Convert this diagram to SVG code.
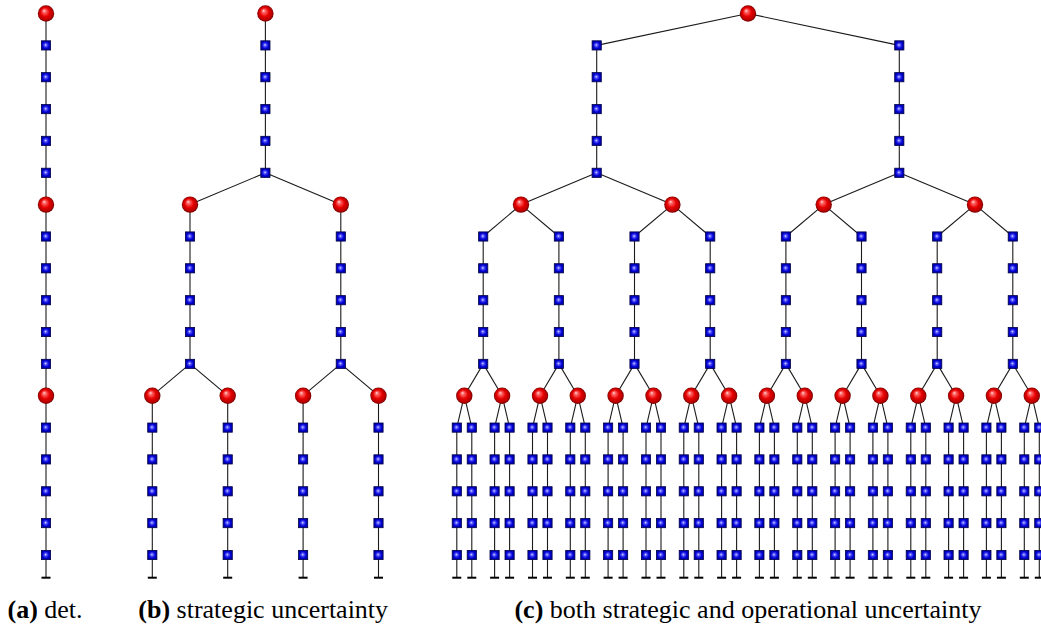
<svg xmlns="http://www.w3.org/2000/svg" width="1041" height="626" viewBox="0 0 1041 626">
  <style>
    .e { stroke: #1a1a1a; stroke-width: 1.1; fill: none; }
    .leaf { marker-end: url(#tee); }
  </style>
  <defs>
    <radialGradient id="ballFill" cx="0.5" cy="0.5" r="0.5" fx="0.38" fy="0.32">
      <stop offset="0" stop-color="#ffe4e4"/>
      <stop offset="0.18" stop-color="#ff6a6a"/>
      <stop offset="0.55" stop-color="#e60000"/>
      <stop offset="0.85" stop-color="#b80000"/>
      <stop offset="1" stop-color="#6e0000"/>
    </radialGradient>
    <radialGradient id="sqFill" cx="0.5" cy="0.5" r="0.6" fx="0.45" fy="0.45">
      <stop offset="0" stop-color="#e4e4ff"/>
      <stop offset="0.22" stop-color="#5a5aff"/>
      <stop offset="0.6" stop-color="#0000d2"/>
      <stop offset="1" stop-color="#00009a"/>
    </radialGradient>
    <g id="ball"><circle r="8.2" fill="url(#ballFill)"/></g>
    <g id="sq"><rect x="-4.6" y="-4.6" width="9.2" height="9.2" fill="url(#sqFill)" stroke="#00004a" stroke-width="0.8"/></g>
    <marker id="tee" markerUnits="userSpaceOnUse" markerWidth="12" markerHeight="4" refX="6" refY="2" orient="0">
      <path d="M1.5 2H10.5" stroke="#000" stroke-width="2"/>
    </marker>
  </defs>
  <rect width="1041" height="626" fill="#fff"/>

  <!-- connectors -->
  <g id="connectors">
    <!-- (a) single chain -->
    <line class="e" x1="46" y1="13.5" x2="46" y2="204.6"/>
    <line class="e" x1="46" y1="204.6" x2="46" y2="395.7"/>
    <line class="e leaf" x1="46" y1="395.7" x2="46" y2="577.7"/>

    <!-- (b) strategic branching -->
    <line class="e" x1="265.4" y1="13.5" x2="265.4" y2="172.8"/>
    <line class="e" x1="265.4" y1="172.8" x2="190" y2="204.6"/>
    <line class="e" x1="265.4" y1="172.8" x2="340.8" y2="204.6"/>
    <line class="e" x1="190" y1="204.6" x2="190" y2="363.9"/>
    <line class="e" x1="340.8" y1="204.6" x2="340.8" y2="363.9"/>
    <line class="e" x1="190" y1="363.9" x2="152.3" y2="395.7"/>
    <line class="e" x1="190" y1="363.9" x2="227.7" y2="395.7"/>
    <line class="e" x1="340.8" y1="363.9" x2="303.1" y2="395.7"/>
    <line class="e" x1="340.8" y1="363.9" x2="378.5" y2="395.7"/>
    <line class="e leaf" x1="152.3" y1="395.7" x2="152.3" y2="577.7"/>
    <line class="e leaf" x1="227.7" y1="395.7" x2="227.7" y2="577.7"/>
    <line class="e leaf" x1="303.1" y1="395.7" x2="303.1" y2="577.7"/>
    <line class="e leaf" x1="378.5" y1="395.7" x2="378.5" y2="577.7"/>

    <!-- (c) strategic + operational branching -->
    <line class="e" x1="748" y1="13.5" x2="596.7" y2="45.4"/>
    <line class="e" x1="748" y1="13.5" x2="899.3" y2="45.4"/>
    <line class="e" x1="596.7" y1="45.4" x2="596.7" y2="172.8"/>
    <line class="e" x1="899.3" y1="45.4" x2="899.3" y2="172.8"/>
    <line class="e" x1="596.7" y1="172.8" x2="521" y2="204.6"/>
    <line class="e" x1="596.7" y1="172.8" x2="672.4" y2="204.6"/>
    <line class="e" x1="899.3" y1="172.8" x2="823.7" y2="204.6"/>
    <line class="e" x1="899.3" y1="172.8" x2="975" y2="204.6"/>

    <line class="e" x1="521" y1="204.6" x2="483.2" y2="236.5"/>
    <line class="e" x1="521" y1="204.6" x2="558.9" y2="236.5"/>
    <line class="e" x1="672.4" y1="204.6" x2="634.5" y2="236.5"/>
    <line class="e" x1="672.4" y1="204.6" x2="710.2" y2="236.5"/>
    <line class="e" x1="823.7" y1="204.6" x2="785.9" y2="236.5"/>
    <line class="e" x1="823.7" y1="204.6" x2="861.5" y2="236.5"/>
    <line class="e" x1="975" y1="204.6" x2="937.2" y2="236.5"/>
    <line class="e" x1="975" y1="204.6" x2="1012.8" y2="236.5"/>

    <line class="e" x1="483.2" y1="236.5" x2="483.2" y2="363.9"/>
    <line class="e" x1="558.9" y1="236.5" x2="558.9" y2="363.9"/>
    <line class="e" x1="634.5" y1="236.5" x2="634.5" y2="363.9"/>
    <line class="e" x1="710.2" y1="236.5" x2="710.2" y2="363.9"/>
    <line class="e" x1="785.9" y1="236.5" x2="785.9" y2="363.9"/>
    <line class="e" x1="861.5" y1="236.5" x2="861.5" y2="363.9"/>
    <line class="e" x1="937.2" y1="236.5" x2="937.2" y2="363.9"/>
    <line class="e" x1="1012.8" y1="236.5" x2="1012.8" y2="363.9"/>

    <line class="e" x1="483.2" y1="363.9" x2="464.3" y2="395.7"/>
    <line class="e" x1="483.2" y1="363.9" x2="502.1" y2="395.7"/>
    <line class="e" x1="558.9" y1="363.9" x2="540" y2="395.7"/>
    <line class="e" x1="558.9" y1="363.9" x2="577.8" y2="395.7"/>
    <line class="e" x1="634.5" y1="363.9" x2="615.6" y2="395.7"/>
    <line class="e" x1="634.5" y1="363.9" x2="653.5" y2="395.7"/>
    <line class="e" x1="710.2" y1="363.9" x2="691.3" y2="395.7"/>
    <line class="e" x1="710.2" y1="363.9" x2="729.1" y2="395.7"/>
    <line class="e" x1="785.9" y1="363.9" x2="766.9" y2="395.7"/>
    <line class="e" x1="785.9" y1="363.9" x2="804.8" y2="395.7"/>
    <line class="e" x1="861.5" y1="363.9" x2="842.6" y2="395.7"/>
    <line class="e" x1="861.5" y1="363.9" x2="880.4" y2="395.7"/>
    <line class="e" x1="937.2" y1="363.9" x2="918.3" y2="395.7"/>
    <line class="e" x1="937.2" y1="363.9" x2="956.1" y2="395.7"/>
    <line class="e" x1="1012.8" y1="363.9" x2="993.9" y2="395.7"/>
    <line class="e" x1="1012.8" y1="363.9" x2="1031.8" y2="395.7"/>

    <line class="e" x1="464.3" y1="395.7" x2="456.8" y2="427.6"/>
    <line class="e" x1="464.3" y1="395.7" x2="471.8" y2="427.6"/>
    <line class="e" x1="502.1" y1="395.7" x2="494.6" y2="427.6"/>
    <line class="e" x1="502.1" y1="395.7" x2="509.6" y2="427.6"/>
    <line class="e" x1="540" y1="395.7" x2="532.5" y2="427.6"/>
    <line class="e" x1="540" y1="395.7" x2="547.5" y2="427.6"/>
    <line class="e" x1="577.8" y1="395.7" x2="570.3" y2="427.6"/>
    <line class="e" x1="577.8" y1="395.7" x2="585.3" y2="427.6"/>
    <line class="e" x1="615.6" y1="395.7" x2="608.1" y2="427.6"/>
    <line class="e" x1="615.6" y1="395.7" x2="623.1" y2="427.6"/>
    <line class="e" x1="653.5" y1="395.7" x2="646" y2="427.6"/>
    <line class="e" x1="653.5" y1="395.7" x2="661" y2="427.6"/>
    <line class="e" x1="691.3" y1="395.7" x2="683.8" y2="427.6"/>
    <line class="e" x1="691.3" y1="395.7" x2="698.8" y2="427.6"/>
    <line class="e" x1="729.1" y1="395.7" x2="721.6" y2="427.6"/>
    <line class="e" x1="729.1" y1="395.7" x2="736.6" y2="427.6"/>
    <line class="e" x1="766.9" y1="395.7" x2="759.4" y2="427.6"/>
    <line class="e" x1="766.9" y1="395.7" x2="774.4" y2="427.6"/>
    <line class="e" x1="804.8" y1="395.7" x2="797.3" y2="427.6"/>
    <line class="e" x1="804.8" y1="395.7" x2="812.3" y2="427.6"/>
    <line class="e" x1="842.6" y1="395.7" x2="835.1" y2="427.6"/>
    <line class="e" x1="842.6" y1="395.7" x2="850.1" y2="427.6"/>
    <line class="e" x1="880.4" y1="395.7" x2="872.9" y2="427.6"/>
    <line class="e" x1="880.4" y1="395.7" x2="887.9" y2="427.6"/>
    <line class="e" x1="918.3" y1="395.7" x2="910.8" y2="427.6"/>
    <line class="e" x1="918.3" y1="395.7" x2="925.8" y2="427.6"/>
    <line class="e" x1="956.1" y1="395.7" x2="948.6" y2="427.6"/>
    <line class="e" x1="956.1" y1="395.7" x2="963.6" y2="427.6"/>
    <line class="e" x1="993.9" y1="395.7" x2="986.4" y2="427.6"/>
    <line class="e" x1="993.9" y1="395.7" x2="1001.4" y2="427.6"/>
    <line class="e" x1="1031.8" y1="395.7" x2="1024.3" y2="427.6"/>
    <line class="e" x1="1031.8" y1="395.7" x2="1039.3" y2="427.6"/>

    <line class="e leaf" x1="456.8" y1="427.6" x2="456.8" y2="577.7"/>
    <line class="e leaf" x1="471.8" y1="427.6" x2="471.8" y2="577.7"/>
    <line class="e leaf" x1="494.6" y1="427.6" x2="494.6" y2="577.7"/>
    <line class="e leaf" x1="509.6" y1="427.6" x2="509.6" y2="577.7"/>
    <line class="e leaf" x1="532.5" y1="427.6" x2="532.5" y2="577.7"/>
    <line class="e leaf" x1="547.5" y1="427.6" x2="547.5" y2="577.7"/>
    <line class="e leaf" x1="570.3" y1="427.6" x2="570.3" y2="577.7"/>
    <line class="e leaf" x1="585.3" y1="427.6" x2="585.3" y2="577.7"/>
    <line class="e leaf" x1="608.1" y1="427.6" x2="608.1" y2="577.7"/>
    <line class="e leaf" x1="623.1" y1="427.6" x2="623.1" y2="577.7"/>
    <line class="e leaf" x1="646" y1="427.6" x2="646" y2="577.7"/>
    <line class="e leaf" x1="661" y1="427.6" x2="661" y2="577.7"/>
    <line class="e leaf" x1="683.8" y1="427.6" x2="683.8" y2="577.7"/>
    <line class="e leaf" x1="698.8" y1="427.6" x2="698.8" y2="577.7"/>
    <line class="e leaf" x1="721.6" y1="427.6" x2="721.6" y2="577.7"/>
    <line class="e leaf" x1="736.6" y1="427.6" x2="736.6" y2="577.7"/>
    <line class="e leaf" x1="759.4" y1="427.6" x2="759.4" y2="577.7"/>
    <line class="e leaf" x1="774.4" y1="427.6" x2="774.4" y2="577.7"/>
    <line class="e leaf" x1="797.3" y1="427.6" x2="797.3" y2="577.7"/>
    <line class="e leaf" x1="812.3" y1="427.6" x2="812.3" y2="577.7"/>
    <line class="e leaf" x1="835.1" y1="427.6" x2="835.1" y2="577.7"/>
    <line class="e leaf" x1="850.1" y1="427.6" x2="850.1" y2="577.7"/>
    <line class="e leaf" x1="872.9" y1="427.6" x2="872.9" y2="577.7"/>
    <line class="e leaf" x1="887.9" y1="427.6" x2="887.9" y2="577.7"/>
    <line class="e leaf" x1="910.8" y1="427.6" x2="910.8" y2="577.7"/>
    <line class="e leaf" x1="925.8" y1="427.6" x2="925.8" y2="577.7"/>
    <line class="e leaf" x1="948.6" y1="427.6" x2="948.6" y2="577.7"/>
    <line class="e leaf" x1="963.6" y1="427.6" x2="963.6" y2="577.7"/>
    <line class="e leaf" x1="986.4" y1="427.6" x2="986.4" y2="577.7"/>
    <line class="e leaf" x1="1001.4" y1="427.6" x2="1001.4" y2="577.7"/>
    <line class="e leaf" x1="1024.3" y1="427.6" x2="1024.3" y2="577.7"/>
    <line class="e leaf" x1="1039.3" y1="427.6" x2="1039.3" y2="577.7"/>
  </g>

  <!-- (a) deterministic: one chain -->
  <g id="panel-a">
    <g id="a0"><use href="#ball" x="46" y="13.5"/></g>
    <g id="a1"><use href="#sq" x="46" y="45.4"/></g>
    <g id="a2"><use href="#sq" x="46" y="77.2"/></g>
    <g id="a3"><use href="#sq" x="46" y="109.1"/></g>
    <g id="a4"><use href="#sq" x="46" y="140.9"/></g>
    <g id="a5"><use href="#sq" x="46" y="172.8"/></g>
    <g id="a6"><use href="#ball" x="46" y="204.6"/></g>
    <g id="a7"><use href="#sq" x="46" y="236.5"/></g>
    <g id="a8"><use href="#sq" x="46" y="268.3"/></g>
    <g id="a9"><use href="#sq" x="46" y="300.2"/></g>
    <g id="a10"><use href="#sq" x="46" y="332"/></g>
    <g id="a11"><use href="#sq" x="46" y="363.9"/></g>
    <g id="a12"><use href="#ball" x="46" y="395.7"/></g>
    <g id="a13"><use href="#sq" x="46" y="427.6"/></g>
    <g id="a14"><use href="#sq" x="46" y="459.4"/></g>
    <g id="a15"><use href="#sq" x="46" y="491.3"/></g>
    <g id="a16"><use href="#sq" x="46" y="523.1"/></g>
    <g id="a17"><use href="#sq" x="46" y="555"/></g>
  </g>

  <!-- (b) strategic uncertainty -->
  <g id="panel-b">
    <g id="b0"><use href="#ball" x="265.4" y="13.5"/></g>
    <g id="b1"><use href="#sq" x="265.4" y="45.4"/></g>
    <g id="b2"><use href="#sq" x="265.4" y="77.2"/></g>
    <g id="b3"><use href="#sq" x="265.4" y="109.1"/></g>
    <g id="b4"><use href="#sq" x="265.4" y="140.9"/></g>
    <g id="b5"><use href="#sq" x="265.4" y="172.8"/></g>

    <g id="b6-0"><use href="#ball" x="190" y="204.6"/></g>
    <g id="b7-0"><use href="#sq" x="190" y="236.5"/></g>
    <g id="b8-0"><use href="#sq" x="190" y="268.3"/></g>
    <g id="b9-0"><use href="#sq" x="190" y="300.2"/></g>
    <g id="b10-0"><use href="#sq" x="190" y="332"/></g>
    <g id="b11-0"><use href="#sq" x="190" y="363.9"/></g>
    <g id="b6-1"><use href="#ball" x="340.8" y="204.6"/></g>
    <g id="b7-1"><use href="#sq" x="340.8" y="236.5"/></g>
    <g id="b8-1"><use href="#sq" x="340.8" y="268.3"/></g>
    <g id="b9-1"><use href="#sq" x="340.8" y="300.2"/></g>
    <g id="b10-1"><use href="#sq" x="340.8" y="332"/></g>
    <g id="b11-1"><use href="#sq" x="340.8" y="363.9"/></g>

    <g id="b12-0"><use href="#ball" x="152.3" y="395.7"/></g>
    <g id="b13-0"><use href="#sq" x="152.3" y="427.6"/></g>
    <g id="b14-0"><use href="#sq" x="152.3" y="459.4"/></g>
    <g id="b15-0"><use href="#sq" x="152.3" y="491.3"/></g>
    <g id="b16-0"><use href="#sq" x="152.3" y="523.1"/></g>
    <g id="b17-0"><use href="#sq" x="152.3" y="555"/></g>
    <g id="b12-1"><use href="#ball" x="227.7" y="395.7"/></g>
    <g id="b13-1"><use href="#sq" x="227.7" y="427.6"/></g>
    <g id="b14-1"><use href="#sq" x="227.7" y="459.4"/></g>
    <g id="b15-1"><use href="#sq" x="227.7" y="491.3"/></g>
    <g id="b16-1"><use href="#sq" x="227.7" y="523.1"/></g>
    <g id="b17-1"><use href="#sq" x="227.7" y="555"/></g>
    <g id="b12-2"><use href="#ball" x="303.1" y="395.7"/></g>
    <g id="b13-2"><use href="#sq" x="303.1" y="427.6"/></g>
    <g id="b14-2"><use href="#sq" x="303.1" y="459.4"/></g>
    <g id="b15-2"><use href="#sq" x="303.1" y="491.3"/></g>
    <g id="b16-2"><use href="#sq" x="303.1" y="523.1"/></g>
    <g id="b17-2"><use href="#sq" x="303.1" y="555"/></g>
    <g id="b12-3"><use href="#ball" x="378.5" y="395.7"/></g>
    <g id="b13-3"><use href="#sq" x="378.5" y="427.6"/></g>
    <g id="b14-3"><use href="#sq" x="378.5" y="459.4"/></g>
    <g id="b15-3"><use href="#sq" x="378.5" y="491.3"/></g>
    <g id="b16-3"><use href="#sq" x="378.5" y="523.1"/></g>
    <g id="b17-3"><use href="#sq" x="378.5" y="555"/></g>
  </g>

  <!-- (c) strategic and operational uncertainty -->
  <g id="panel-c">
    <g id="c0"><use href="#ball" x="748" y="13.5"/></g>

    <g id="c1-0"><use href="#sq" x="596.7" y="45.4"/></g>
    <g id="c2-0"><use href="#sq" x="596.7" y="77.2"/></g>
    <g id="c3-0"><use href="#sq" x="596.7" y="109.1"/></g>
    <g id="c4-0"><use href="#sq" x="596.7" y="140.9"/></g>
    <g id="c5-0"><use href="#sq" x="596.7" y="172.8"/></g>
    <g id="c1-1"><use href="#sq" x="899.3" y="45.4"/></g>
    <g id="c2-1"><use href="#sq" x="899.3" y="77.2"/></g>
    <g id="c3-1"><use href="#sq" x="899.3" y="109.1"/></g>
    <g id="c4-1"><use href="#sq" x="899.3" y="140.9"/></g>
    <g id="c5-1"><use href="#sq" x="899.3" y="172.8"/></g>

    <g id="c6-0"><use href="#ball" x="521" y="204.6"/></g>
    <g id="c6-1"><use href="#ball" x="672.4" y="204.6"/></g>
    <g id="c6-2"><use href="#ball" x="823.7" y="204.6"/></g>
    <g id="c6-3"><use href="#ball" x="975" y="204.6"/></g>

    <g id="c7-0"><use href="#sq" x="483.2" y="236.5"/></g>
    <g id="c8-0"><use href="#sq" x="483.2" y="268.3"/></g>
    <g id="c9-0"><use href="#sq" x="483.2" y="300.2"/></g>
    <g id="c10-0"><use href="#sq" x="483.2" y="332"/></g>
    <g id="c11-0"><use href="#sq" x="483.2" y="363.9"/></g>
    <g id="c7-1"><use href="#sq" x="558.9" y="236.5"/></g>
    <g id="c8-1"><use href="#sq" x="558.9" y="268.3"/></g>
    <g id="c9-1"><use href="#sq" x="558.9" y="300.2"/></g>
    <g id="c10-1"><use href="#sq" x="558.9" y="332"/></g>
    <g id="c11-1"><use href="#sq" x="558.9" y="363.9"/></g>
    <g id="c7-2"><use href="#sq" x="634.5" y="236.5"/></g>
    <g id="c8-2"><use href="#sq" x="634.5" y="268.3"/></g>
    <g id="c9-2"><use href="#sq" x="634.5" y="300.2"/></g>
    <g id="c10-2"><use href="#sq" x="634.5" y="332"/></g>
    <g id="c11-2"><use href="#sq" x="634.5" y="363.9"/></g>
    <g id="c7-3"><use href="#sq" x="710.2" y="236.5"/></g>
    <g id="c8-3"><use href="#sq" x="710.2" y="268.3"/></g>
    <g id="c9-3"><use href="#sq" x="710.2" y="300.2"/></g>
    <g id="c10-3"><use href="#sq" x="710.2" y="332"/></g>
    <g id="c11-3"><use href="#sq" x="710.2" y="363.9"/></g>
    <g id="c7-4"><use href="#sq" x="785.9" y="236.5"/></g>
    <g id="c8-4"><use href="#sq" x="785.9" y="268.3"/></g>
    <g id="c9-4"><use href="#sq" x="785.9" y="300.2"/></g>
    <g id="c10-4"><use href="#sq" x="785.9" y="332"/></g>
    <g id="c11-4"><use href="#sq" x="785.9" y="363.9"/></g>
    <g id="c7-5"><use href="#sq" x="861.5" y="236.5"/></g>
    <g id="c8-5"><use href="#sq" x="861.5" y="268.3"/></g>
    <g id="c9-5"><use href="#sq" x="861.5" y="300.2"/></g>
    <g id="c10-5"><use href="#sq" x="861.5" y="332"/></g>
    <g id="c11-5"><use href="#sq" x="861.5" y="363.9"/></g>
    <g id="c7-6"><use href="#sq" x="937.2" y="236.5"/></g>
    <g id="c8-6"><use href="#sq" x="937.2" y="268.3"/></g>
    <g id="c9-6"><use href="#sq" x="937.2" y="300.2"/></g>
    <g id="c10-6"><use href="#sq" x="937.2" y="332"/></g>
    <g id="c11-6"><use href="#sq" x="937.2" y="363.9"/></g>
    <g id="c7-7"><use href="#sq" x="1012.8" y="236.5"/></g>
    <g id="c8-7"><use href="#sq" x="1012.8" y="268.3"/></g>
    <g id="c9-7"><use href="#sq" x="1012.8" y="300.2"/></g>
    <g id="c10-7"><use href="#sq" x="1012.8" y="332"/></g>
    <g id="c11-7"><use href="#sq" x="1012.8" y="363.9"/></g>

    <g id="c12-0"><use href="#ball" x="464.3" y="395.7"/></g>
    <g id="c12-1"><use href="#ball" x="502.1" y="395.7"/></g>
    <g id="c12-2"><use href="#ball" x="540" y="395.7"/></g>
    <g id="c12-3"><use href="#ball" x="577.8" y="395.7"/></g>
    <g id="c12-4"><use href="#ball" x="615.6" y="395.7"/></g>
    <g id="c12-5"><use href="#ball" x="653.5" y="395.7"/></g>
    <g id="c12-6"><use href="#ball" x="691.3" y="395.7"/></g>
    <g id="c12-7"><use href="#ball" x="729.1" y="395.7"/></g>
    <g id="c12-8"><use href="#ball" x="766.9" y="395.7"/></g>
    <g id="c12-9"><use href="#ball" x="804.8" y="395.7"/></g>
    <g id="c12-10"><use href="#ball" x="842.6" y="395.7"/></g>
    <g id="c12-11"><use href="#ball" x="880.4" y="395.7"/></g>
    <g id="c12-12"><use href="#ball" x="918.3" y="395.7"/></g>
    <g id="c12-13"><use href="#ball" x="956.1" y="395.7"/></g>
    <g id="c12-14"><use href="#ball" x="993.9" y="395.7"/></g>
    <g id="c12-15"><use href="#ball" x="1031.8" y="395.7"/></g>

    <!-- leaf chains: rows 13-17, two per bottom chance node -->
    <g id="c13-0"><use href="#sq" x="456.8" y="427.6"/></g><g id="c14-0"><use href="#sq" x="456.8" y="459.4"/></g><g id="c15-0"><use href="#sq" x="456.8" y="491.3"/></g><g id="c16-0"><use href="#sq" x="456.8" y="523.1"/></g><g id="c17-0"><use href="#sq" x="456.8" y="555"/></g>
    <g id="c13-1"><use href="#sq" x="471.8" y="427.6"/></g><g id="c14-1"><use href="#sq" x="471.8" y="459.4"/></g><g id="c15-1"><use href="#sq" x="471.8" y="491.3"/></g><g id="c16-1"><use href="#sq" x="471.8" y="523.1"/></g><g id="c17-1"><use href="#sq" x="471.8" y="555"/></g>
    <g id="c13-2"><use href="#sq" x="494.6" y="427.6"/></g><g id="c14-2"><use href="#sq" x="494.6" y="459.4"/></g><g id="c15-2"><use href="#sq" x="494.6" y="491.3"/></g><g id="c16-2"><use href="#sq" x="494.6" y="523.1"/></g><g id="c17-2"><use href="#sq" x="494.6" y="555"/></g>
    <g id="c13-3"><use href="#sq" x="509.6" y="427.6"/></g><g id="c14-3"><use href="#sq" x="509.6" y="459.4"/></g><g id="c15-3"><use href="#sq" x="509.6" y="491.3"/></g><g id="c16-3"><use href="#sq" x="509.6" y="523.1"/></g><g id="c17-3"><use href="#sq" x="509.6" y="555"/></g>
    <g id="c13-4"><use href="#sq" x="532.5" y="427.6"/></g><g id="c14-4"><use href="#sq" x="532.5" y="459.4"/></g><g id="c15-4"><use href="#sq" x="532.5" y="491.3"/></g><g id="c16-4"><use href="#sq" x="532.5" y="523.1"/></g><g id="c17-4"><use href="#sq" x="532.5" y="555"/></g>
    <g id="c13-5"><use href="#sq" x="547.5" y="427.6"/></g><g id="c14-5"><use href="#sq" x="547.5" y="459.4"/></g><g id="c15-5"><use href="#sq" x="547.5" y="491.3"/></g><g id="c16-5"><use href="#sq" x="547.5" y="523.1"/></g><g id="c17-5"><use href="#sq" x="547.5" y="555"/></g>
    <g id="c13-6"><use href="#sq" x="570.3" y="427.6"/></g><g id="c14-6"><use href="#sq" x="570.3" y="459.4"/></g><g id="c15-6"><use href="#sq" x="570.3" y="491.3"/></g><g id="c16-6"><use href="#sq" x="570.3" y="523.1"/></g><g id="c17-6"><use href="#sq" x="570.3" y="555"/></g>
    <g id="c13-7"><use href="#sq" x="585.3" y="427.6"/></g><g id="c14-7"><use href="#sq" x="585.3" y="459.4"/></g><g id="c15-7"><use href="#sq" x="585.3" y="491.3"/></g><g id="c16-7"><use href="#sq" x="585.3" y="523.1"/></g><g id="c17-7"><use href="#sq" x="585.3" y="555"/></g>
    <g id="c13-8"><use href="#sq" x="608.1" y="427.6"/></g><g id="c14-8"><use href="#sq" x="608.1" y="459.4"/></g><g id="c15-8"><use href="#sq" x="608.1" y="491.3"/></g><g id="c16-8"><use href="#sq" x="608.1" y="523.1"/></g><g id="c17-8"><use href="#sq" x="608.1" y="555"/></g>
    <g id="c13-9"><use href="#sq" x="623.1" y="427.6"/></g><g id="c14-9"><use href="#sq" x="623.1" y="459.4"/></g><g id="c15-9"><use href="#sq" x="623.1" y="491.3"/></g><g id="c16-9"><use href="#sq" x="623.1" y="523.1"/></g><g id="c17-9"><use href="#sq" x="623.1" y="555"/></g>
    <g id="c13-10"><use href="#sq" x="646" y="427.6"/></g><g id="c14-10"><use href="#sq" x="646" y="459.4"/></g><g id="c15-10"><use href="#sq" x="646" y="491.3"/></g><g id="c16-10"><use href="#sq" x="646" y="523.1"/></g><g id="c17-10"><use href="#sq" x="646" y="555"/></g>
    <g id="c13-11"><use href="#sq" x="661" y="427.6"/></g><g id="c14-11"><use href="#sq" x="661" y="459.4"/></g><g id="c15-11"><use href="#sq" x="661" y="491.3"/></g><g id="c16-11"><use href="#sq" x="661" y="523.1"/></g><g id="c17-11"><use href="#sq" x="661" y="555"/></g>
    <g id="c13-12"><use href="#sq" x="683.8" y="427.6"/></g><g id="c14-12"><use href="#sq" x="683.8" y="459.4"/></g><g id="c15-12"><use href="#sq" x="683.8" y="491.3"/></g><g id="c16-12"><use href="#sq" x="683.8" y="523.1"/></g><g id="c17-12"><use href="#sq" x="683.8" y="555"/></g>
    <g id="c13-13"><use href="#sq" x="698.8" y="427.6"/></g><g id="c14-13"><use href="#sq" x="698.8" y="459.4"/></g><g id="c15-13"><use href="#sq" x="698.8" y="491.3"/></g><g id="c16-13"><use href="#sq" x="698.8" y="523.1"/></g><g id="c17-13"><use href="#sq" x="698.8" y="555"/></g>
    <g id="c13-14"><use href="#sq" x="721.6" y="427.6"/></g><g id="c14-14"><use href="#sq" x="721.6" y="459.4"/></g><g id="c15-14"><use href="#sq" x="721.6" y="491.3"/></g><g id="c16-14"><use href="#sq" x="721.6" y="523.1"/></g><g id="c17-14"><use href="#sq" x="721.6" y="555"/></g>
    <g id="c13-15"><use href="#sq" x="736.6" y="427.6"/></g><g id="c14-15"><use href="#sq" x="736.6" y="459.4"/></g><g id="c15-15"><use href="#sq" x="736.6" y="491.3"/></g><g id="c16-15"><use href="#sq" x="736.6" y="523.1"/></g><g id="c17-15"><use href="#sq" x="736.6" y="555"/></g>
    <g id="c13-16"><use href="#sq" x="759.4" y="427.6"/></g><g id="c14-16"><use href="#sq" x="759.4" y="459.4"/></g><g id="c15-16"><use href="#sq" x="759.4" y="491.3"/></g><g id="c16-16"><use href="#sq" x="759.4" y="523.1"/></g><g id="c17-16"><use href="#sq" x="759.4" y="555"/></g>
    <g id="c13-17"><use href="#sq" x="774.4" y="427.6"/></g><g id="c14-17"><use href="#sq" x="774.4" y="459.4"/></g><g id="c15-17"><use href="#sq" x="774.4" y="491.3"/></g><g id="c16-17"><use href="#sq" x="774.4" y="523.1"/></g><g id="c17-17"><use href="#sq" x="774.4" y="555"/></g>
    <g id="c13-18"><use href="#sq" x="797.3" y="427.6"/></g><g id="c14-18"><use href="#sq" x="797.3" y="459.4"/></g><g id="c15-18"><use href="#sq" x="797.3" y="491.3"/></g><g id="c16-18"><use href="#sq" x="797.3" y="523.1"/></g><g id="c17-18"><use href="#sq" x="797.3" y="555"/></g>
    <g id="c13-19"><use href="#sq" x="812.3" y="427.6"/></g><g id="c14-19"><use href="#sq" x="812.3" y="459.4"/></g><g id="c15-19"><use href="#sq" x="812.3" y="491.3"/></g><g id="c16-19"><use href="#sq" x="812.3" y="523.1"/></g><g id="c17-19"><use href="#sq" x="812.3" y="555"/></g>
    <g id="c13-20"><use href="#sq" x="835.1" y="427.6"/></g><g id="c14-20"><use href="#sq" x="835.1" y="459.4"/></g><g id="c15-20"><use href="#sq" x="835.1" y="491.3"/></g><g id="c16-20"><use href="#sq" x="835.1" y="523.1"/></g><g id="c17-20"><use href="#sq" x="835.1" y="555"/></g>
    <g id="c13-21"><use href="#sq" x="850.1" y="427.6"/></g><g id="c14-21"><use href="#sq" x="850.1" y="459.4"/></g><g id="c15-21"><use href="#sq" x="850.1" y="491.3"/></g><g id="c16-21"><use href="#sq" x="850.1" y="523.1"/></g><g id="c17-21"><use href="#sq" x="850.1" y="555"/></g>
    <g id="c13-22"><use href="#sq" x="872.9" y="427.6"/></g><g id="c14-22"><use href="#sq" x="872.9" y="459.4"/></g><g id="c15-22"><use href="#sq" x="872.9" y="491.3"/></g><g id="c16-22"><use href="#sq" x="872.9" y="523.1"/></g><g id="c17-22"><use href="#sq" x="872.9" y="555"/></g>
    <g id="c13-23"><use href="#sq" x="887.9" y="427.6"/></g><g id="c14-23"><use href="#sq" x="887.9" y="459.4"/></g><g id="c15-23"><use href="#sq" x="887.9" y="491.3"/></g><g id="c16-23"><use href="#sq" x="887.9" y="523.1"/></g><g id="c17-23"><use href="#sq" x="887.9" y="555"/></g>
    <g id="c13-24"><use href="#sq" x="910.8" y="427.6"/></g><g id="c14-24"><use href="#sq" x="910.8" y="459.4"/></g><g id="c15-24"><use href="#sq" x="910.8" y="491.3"/></g><g id="c16-24"><use href="#sq" x="910.8" y="523.1"/></g><g id="c17-24"><use href="#sq" x="910.8" y="555"/></g>
    <g id="c13-25"><use href="#sq" x="925.8" y="427.6"/></g><g id="c14-25"><use href="#sq" x="925.8" y="459.4"/></g><g id="c15-25"><use href="#sq" x="925.8" y="491.3"/></g><g id="c16-25"><use href="#sq" x="925.8" y="523.1"/></g><g id="c17-25"><use href="#sq" x="925.8" y="555"/></g>
    <g id="c13-26"><use href="#sq" x="948.6" y="427.6"/></g><g id="c14-26"><use href="#sq" x="948.6" y="459.4"/></g><g id="c15-26"><use href="#sq" x="948.6" y="491.3"/></g><g id="c16-26"><use href="#sq" x="948.6" y="523.1"/></g><g id="c17-26"><use href="#sq" x="948.6" y="555"/></g>
    <g id="c13-27"><use href="#sq" x="963.6" y="427.6"/></g><g id="c14-27"><use href="#sq" x="963.6" y="459.4"/></g><g id="c15-27"><use href="#sq" x="963.6" y="491.3"/></g><g id="c16-27"><use href="#sq" x="963.6" y="523.1"/></g><g id="c17-27"><use href="#sq" x="963.6" y="555"/></g>
    <g id="c13-28"><use href="#sq" x="986.4" y="427.6"/></g><g id="c14-28"><use href="#sq" x="986.4" y="459.4"/></g><g id="c15-28"><use href="#sq" x="986.4" y="491.3"/></g><g id="c16-28"><use href="#sq" x="986.4" y="523.1"/></g><g id="c17-28"><use href="#sq" x="986.4" y="555"/></g>
    <g id="c13-29"><use href="#sq" x="1001.4" y="427.6"/></g><g id="c14-29"><use href="#sq" x="1001.4" y="459.4"/></g><g id="c15-29"><use href="#sq" x="1001.4" y="491.3"/></g><g id="c16-29"><use href="#sq" x="1001.4" y="523.1"/></g><g id="c17-29"><use href="#sq" x="1001.4" y="555"/></g>
    <g id="c13-30"><use href="#sq" x="1024.3" y="427.6"/></g><g id="c14-30"><use href="#sq" x="1024.3" y="459.4"/></g><g id="c15-30"><use href="#sq" x="1024.3" y="491.3"/></g><g id="c16-30"><use href="#sq" x="1024.3" y="523.1"/></g><g id="c17-30"><use href="#sq" x="1024.3" y="555"/></g>
    <g id="c13-31"><use href="#sq" x="1039.3" y="427.6"/></g><g id="c14-31"><use href="#sq" x="1039.3" y="459.4"/></g><g id="c15-31"><use href="#sq" x="1039.3" y="491.3"/></g><g id="c16-31"><use href="#sq" x="1039.3" y="523.1"/></g><g id="c17-31"><use href="#sq" x="1039.3" y="555"/></g>
  </g>

  <!-- sub-captions -->
  <g id="captions" font-size="26" fill="#000">
    <text x="7.5" y="617.5" font-family="Liberation Serif"><tspan font-weight="bold">(a)</tspan> det.</text>
    <text x="138.3" y="617.5" font-family="Liberation Serif"><tspan font-weight="bold">(b)</tspan> strategic uncertainty</text>
    <text x="748" y="617.5" text-anchor="middle" font-family="Liberation Serif"><tspan font-weight="bold">(c)</tspan> both strategic and operational uncertainty</text>
  </g>
</svg>
